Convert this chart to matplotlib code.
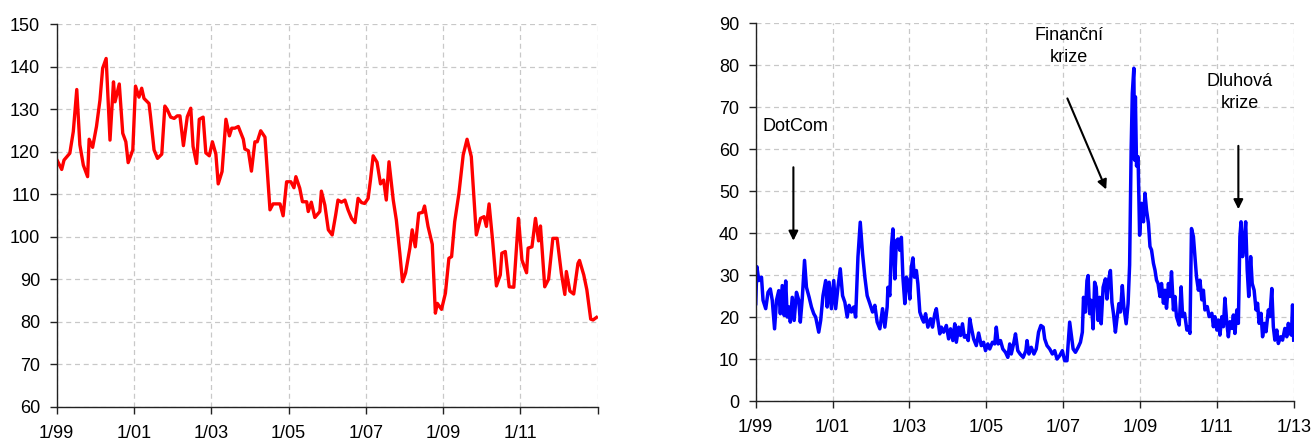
import numpy as np
import matplotlib
matplotlib.use("Agg")
import matplotlib.pyplot as plt

plt.rcParams['font.family'] = ['Liberation Sans', 'DejaVu Sans']
plt.rcParams['font.size'] = 13

# time axis: years since 1/1999
tick_pos = [0, 2, 4, 6, 8, 10, 12, 14]
left_labels = ['1/99', '1/01', '1/03', '1/05', '1/07', '1/09', '1/11', '']
right_labels = ['1/99', '1/01', '1/03', '1/05', '1/07', '1/09', '1/11', '1/13']

# left panel (red)
t_left = [0.02, 0.13, 0.19, 0.34, 0.43, 0.52, 0.60, 0.69, 0.80, 0.84, 0.93, 1.03, 1.12, 1.19,
          1.28, 1.38, 1.47, 1.51, 1.62, 1.71, 1.79, 1.85, 1.97, 2.04, 2.13, 2.20, 2.26, 2.39,
          2.43, 2.52, 2.61, 2.72, 2.80, 2.86, 2.95, 3.04, 3.12, 3.19, 3.28, 3.38, 3.47, 3.53,
          3.62, 3.69, 3.79, 3.86, 3.95, 4.03, 4.12, 4.18, 4.28, 4.38, 4.47, 4.53, 4.61, 4.70,
          4.83, 4.87, 4.96, 5.04, 5.13, 5.19, 5.28, 5.39, 5.52, 5.60, 5.78, 5.86, 5.95, 6.06,
          6.14, 6.19, 6.29, 6.36, 6.47, 6.51, 6.59, 6.68, 6.81, 6.85, 6.94, 7.03, 7.13, 7.22,
          7.28, 7.37, 7.46, 7.54, 7.63, 7.72, 7.80, 7.89, 7.97, 8.06, 8.12, 8.19, 8.29, 8.38,
          8.46, 8.53, 8.60, 8.71, 8.79, 8.88, 8.95, 9.03, 9.14, 9.20, 9.28, 9.37, 9.47, 9.52,
          9.61, 9.72, 9.80, 9.85, 9.96, 10.06, 10.15, 10.22, 10.30, 10.41, 10.52, 10.62, 10.73,
          10.86, 10.97, 11.06, 11.12, 11.19, 11.28, 11.38, 11.48, 11.52, 11.61, 11.71, 11.83,
          11.95, 12.04, 12.16, 12.20, 12.30, 12.39, 12.47, 12.52, 12.63, 12.73, 12.84, 12.95,
          13.06, 13.15, 13.19, 13.28, 13.38, 13.49, 13.53, 13.64, 13.72, 13.82, 13.88, 13.97]
v_left = [117.8, 115.8, 118.0, 119.6, 124.7, 134.6, 121.6, 116.8, 114.1, 122.9, 121.0, 125.9, 132.1, 139.6,
          141.9, 122.7, 136.4, 131.7, 135.9, 124.3, 122.3, 117.4, 120.4, 135.4, 132.8, 134.9, 132.5, 131.3,
          128.2, 120.4, 118.4, 119.4, 130.7, 129.9, 128.1, 127.8, 128.4, 128.4, 121.4, 128.2, 130.2, 121.2,
          117.2, 127.6, 128.1, 119.7, 119.0, 122.3, 119.4, 112.4, 115.3, 127.6, 123.7, 125.5, 125.5, 125.9,
          122.9, 120.6, 120.2, 115.4, 122.3, 122.3, 124.9, 123.4, 106.3, 107.7, 107.7, 104.9, 112.9, 112.9,
          111.5, 114.1, 111.4, 108.2, 108.2, 105.9, 108.1, 104.5, 105.9, 110.7, 107.4, 101.6, 100.4, 105.1,
          108.6, 108.1, 108.6, 106.3, 104.3, 103.3, 109.0, 108.0, 107.8, 109.0, 113.3, 119.0, 117.5, 112.4,
          113.3, 108.6, 117.6, 108.6, 103.9, 96.1, 89.4, 91.5, 97.3, 101.6, 97.6, 105.5, 105.7, 107.2,
          102.4, 98.2, 82.0, 84.3, 82.9, 86.7, 94.9, 95.3, 103.5, 110.2, 119.2, 122.9, 118.8,
          100.4, 104.3, 104.7, 102.4, 107.7, 99.2, 88.4, 91.0, 96.1, 96.5, 88.2, 88.1,
          104.3, 94.5, 91.5, 97.3, 97.6, 104.3, 99.0, 102.5, 88.2, 90.0, 99.6, 99.6,
          91.4, 86.4, 91.8, 87.2, 86.5, 93.7, 94.4, 91.0, 87.5, 80.6, 80.4, 81.0]

# right panel (blue)
t_right = [0.00, 0.03, 0.08, 0.15, 0.19, 0.26, 0.32, 0.38, 0.43, 0.49, 0.54, 0.60, 0.64, 0.69,
           0.74, 0.78, 0.82, 0.87, 0.90, 0.95, 1.00, 1.06, 1.12, 1.16, 1.21, 1.27, 1.32, 1.39,
           1.45, 1.51, 1.56, 1.64, 1.69, 1.75, 1.82, 1.86, 1.91, 1.97, 2.03, 2.08, 2.14, 2.20,
           2.26, 2.32, 2.38, 2.43, 2.49, 2.55, 2.60, 2.66, 2.72, 2.78, 2.84, 2.90, 2.97, 3.04,
           3.10, 3.16,
           3.23, 3.30, 3.36, 3.42, 3.44, 3.49, 3.53, 3.57, 3.62, 3.66, 3.70, 3.75, 3.79, 3.83,
           3.88, 3.92, 3.96, 4.01, 4.05, 4.09, 4.13, 4.18, 4.22, 4.27, 4.33, 4.37, 4.42, 4.48,
           4.55, 4.60, 4.66, 4.70, 4.74, 4.79, 4.83, 4.89, 4.96, 5.02, 5.07, 5.13, 5.18, 5.22,
           5.28, 5.33, 5.38, 5.43, 5.48, 5.53, 5.57, 5.61, 5.67, 5.74, 5.80, 5.87, 5.93, 5.98,
           6.04, 6.09, 6.16, 6.22, 6.26, 6.31, 6.37, 6.43, 6.50, 6.56,
           6.61, 6.65, 6.71, 6.76, 6.82, 6.88, 6.96, 7.03, 7.06, 7.11, 7.17, 7.24, 7.30, 7.36,
           7.42, 7.48, 7.52, 7.58, 7.65, 7.72, 7.78, 7.84, 7.91, 7.98, 8.04, 8.10, 8.17, 8.21,
           8.26, 8.32, 8.39, 8.45, 8.50, 8.53, 8.58, 8.62, 8.65, 8.69, 8.73, 8.78, 8.82, 8.86,
           8.91, 8.95, 8.99, 9.04, 9.10, 9.14, 9.18, 9.23, 9.27, 9.31, 9.36, 9.40, 9.45, 9.49,
           9.54, 9.58, 9.64, 9.69, 9.73,
           9.77, 9.80, 9.84, 9.86, 9.88, 9.91, 9.95, 9.99,
           10.04, 10.09, 10.13, 10.17, 10.22, 10.26, 10.30, 10.35, 10.39, 10.43, 10.47, 10.52,
           10.56, 10.61, 10.65, 10.69, 10.74, 10.78, 10.82, 10.87, 10.91, 10.95, 11.02, 11.07,
           11.11, 11.16, 11.22, 11.26, 11.30, 11.34, 11.39, 11.43, 11.47, 11.52, 11.56, 11.61,
           11.65, 11.69, 11.75, 11.80, 11.87, 11.91, 11.95, 12.00, 12.04, 12.08, 12.13, 12.17,
           12.21, 12.26, 12.30, 12.34, 12.39, 12.43, 12.47, 12.52, 12.56, 12.60, 12.63, 12.67,
           12.71, 12.75, 12.79, 12.83, 12.88, 12.92, 12.97, 13.02, 13.06, 13.10, 13.15, 13.19,
           13.24, 13.28, 13.34, 13.38, 13.43, 13.47, 13.51, 13.56, 13.60, 13.66, 13.71, 13.77,
           13.82, 13.86, 13.90, 13.94, 13.97, 14.00]
v_right = [23.2, 32.0, 28.7, 29.5, 24.0, 22.0, 25.9, 26.7, 24.0, 17.2, 24.0, 26.3, 20.8, 27.5,
           20.4, 28.6, 20.0, 22.4, 18.8, 24.7, 19.2, 25.9, 24.0, 18.8, 24.3, 33.5, 27.1, 24.7,
           22.4, 20.8, 20.0, 16.4, 19.2, 25.1, 28.7, 22.4, 28.3, 22.0, 28.7, 22.0, 27.1, 31.5,
           25.1, 23.5, 20.0, 22.8, 21.2, 22.4, 20.0, 34.3, 42.6, 35.1, 29.5, 25.1, 23.2, 21.2,
           22.8, 18.8,
           17.2, 22.0, 17.6, 22.4, 27.1, 25.1, 36.7, 41.0, 29.1, 38.2, 38.6, 35.9, 39.0, 29.5,
           23.2, 29.5, 28.7, 24.3, 31.9, 34.1, 29.5, 31.1, 27.9, 21.2, 19.6, 18.8, 20.8, 17.6,
           19.6, 17.6, 20.8, 22.0, 19.2, 16.0, 17.6, 16.4, 18.0, 14.8, 17.2, 14.4, 18.4, 14.0,
           17.6, 15.6, 18.4, 15.2, 15.6, 14.4, 19.6, 17.6, 14.8, 13.2, 16.2, 13.2, 14.0, 12.0,
           13.6, 12.4, 14.0, 13.6, 17.6, 13.6, 14.4, 12.4, 11.6, 10.4,
           13.6, 11.2, 13.6, 16.0, 12.0, 11.2, 10.4, 12.0, 14.4, 11.2, 12.8, 11.2, 12.4, 16.4,
           18.0, 17.6, 14.8, 13.2, 12.4, 11.2, 12.0, 10.0, 10.8, 12.0, 9.6, 9.6, 18.8, 16.0,
           12.4, 11.6, 12.8, 14.0, 16.4, 24.7, 21.2, 28.7, 29.9, 20.8, 24.0, 17.2, 28.3, 27.1,
           19.2, 24.7, 18.4, 27.1, 29.1, 24.3, 28.7, 31.1, 23.5, 20.8, 16.4, 19.6, 23.2, 21.2,
           27.5, 22.4, 18.4, 23.2, 32.4,
           60.0, 73.3, 79.3, 57.4, 72.5, 56.0, 58.2, 39.5,
           47.1, 42.7, 49.5, 45.5, 42.3, 36.8, 36.0, 32.8, 31.2, 28.8, 28.0, 24.9,
           28.0, 23.3, 26.4, 22.1, 28.0, 24.9, 30.8, 21.7, 24.9, 20.1, 18.1, 27.2,
           20.1, 20.9, 16.9, 17.7, 16.1, 41.1, 39.2, 34.4, 29.6, 26.4, 28.8, 24.1,
           26.4, 21.7, 22.5, 20.1, 20.9, 17.7, 20.1, 16.9, 19.3, 15.7, 20.1, 17.7,
           24.5, 18.5, 15.3, 18.9, 17.3, 20.5, 16.1, 21.7, 18.5, 39.2, 42.7, 34.4,
           37.6, 42.7, 31.2, 24.9, 34.4, 28.0, 26.4, 21.7, 23.3, 18.5, 20.9, 15.3,
           18.5, 16.5, 21.7, 20.1, 26.8, 17.7, 14.5, 16.9, 13.7, 15.3, 14.5, 17.3,
           15.3, 18.5, 16.1, 15.7, 22.9, 14.5]

fig = plt.figure(figsize=(13.15, 4.43), dpi=100)
ax1 = fig.add_axes([0.0431, 0.0819, 0.4114, 0.8639])
ax2 = fig.add_axes([0.5747, 0.0948, 0.4091, 0.8526])


def style(ax, ylim, labels):
    ax.set_xlim(0, 14)
    ax.set_ylim(*ylim)
    ax.set_xticks(tick_pos)
    ax.set_xticklabels(labels)
    ax.set_yticks(np.arange(ylim[0], ylim[1] + 1, 10))
    ax.grid(True, color='#c8c8c8', linestyle=(0, (4, 3)), linewidth=0.9)
    ax.set_axisbelow(True)
    for s in ['top', 'right']:
        ax.spines[s].set_visible(False)
    for s in ['left', 'bottom']:
        ax.spines[s].set_color('#222222')
        ax.spines[s].set_linewidth(1.0)
    ax.tick_params(axis='both', direction='out', length=5, width=1, color='#222222', labelsize=13)
    ax.tick_params(axis='y', pad=7)
    ax.tick_params(axis='x', pad=8)


ax1.plot(t_left, v_left, color='#ff0000', linewidth=2.4)
style(ax1, (60, 150), left_labels)

ax2.plot(t_right, v_right, color='#0000ff', linewidth=2.5)
style(ax2, (0, 90), right_labels)

arrow = dict(arrowstyle='-|>', color='black', lw=1.5, mutation_scale=14, shrinkA=0, shrinkB=0)
ax2.text(1.04, 65.5, 'DotCom', ha='center', va='center', fontsize=13)
ax2.annotate('', xy=(0.98, 38.2), xytext=(0.98, 55.7), arrowprops=arrow)
ax2.text(8.16, 84.4, 'Finanční\nkrize', ha='center', va='center', fontsize=13, linespacing=1.4)
ax2.annotate('', xy=(9.12, 50.4), xytext=(8.11, 72.1), arrowprops=arrow)
ax2.text(12.60, 73.5, 'Dluhová\nkrize', ha='center', va='center', fontsize=13, linespacing=1.4)
ax2.annotate('', xy=(12.56, 45.7), xytext=(12.56, 60.8), arrowprops=arrow)

fig.savefig('out.png', dpi=100)
